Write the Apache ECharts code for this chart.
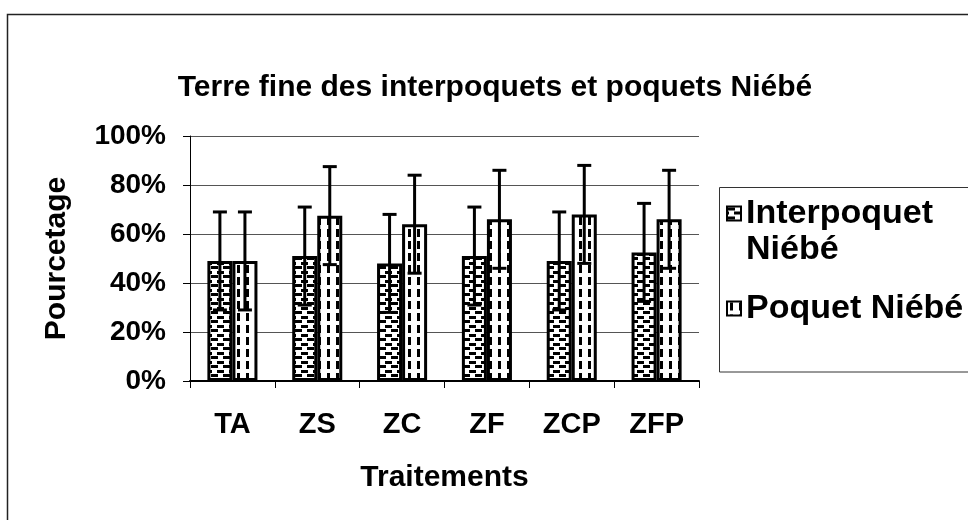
<!DOCTYPE html>
<html>
<head>
<meta charset="utf-8">
<script src="https://cdn.jsdelivr.net/npm/echarts@6/dist/echarts.min.js"></script>
<style>
html,body{margin:0;padding:0;background:#fff;}
#chart{width:968px;height:520px;}
</style>
</head>
<body>
<div id="chart"></div>
<script>
const categories = ['TA', 'ZS', 'ZC', 'ZF', 'ZCP', 'ZFP'];
const seriesNames = ['Interpoquet Niébé', 'Poquet Niébé'];
const interpoquet = [0.49, 0.51, 0.48, 0.51, 0.49, 0.525];
const interpoquetErr = [0.20, 0.20, 0.20, 0.20, 0.20, 0.20];
const poquet = [0.49, 0.675, 0.64, 0.66, 0.68, 0.66];
const poquetErr = [0.20, 0.20, 0.20, 0.20, 0.20, 0.20];
const yTicks = [0, 0.2, 0.4, 0.6, 0.8, 1.0];

const FONT = "'Liberation Sans', Arial, sans-serif";
const GAP = 0.41;

function makePattern(kind) {
  const c = document.createElement('canvas');
  const ctx = c.getContext('2d');
  if (kind === 'h') {
    c.width = 12; c.height = 9;
    ctx.fillStyle = '#fff'; ctx.fillRect(0, 0, 12, 9);
    ctx.fillStyle = '#000';
    ctx.fillRect(1, 1, 7, 3);
    ctx.fillRect(7, 5, 7, 3);
    ctx.fillRect(-5, 5, 7, 3);
  } else {
    c.width = 9; c.height = 12;
    ctx.fillStyle = '#fff'; ctx.fillRect(0, 0, 9, 12);
    ctx.fillStyle = '#000';
    ctx.fillRect(3, 1, 3, 8);
  }
  return c;
}

function errSeries(vals, errs, side) {
  return {
    type: 'custom',
    z: 10,
    silent: true,
    data: vals.map((v, i) => [i, v, errs[i]]),
    encode: { x: 0, y: 1 },
    renderItem: function (params, api) {
      const i = api.value(0), v = api.value(1), e = api.value(2);
      const catW = api.size([1, 0])[0];
      const barW = catW * (1 - GAP) / 2;
      const top = api.coord([i, v + e]);
      const bot = api.coord([i, v - e]);
      const x = top[0] + side * barW / 2;
      const cap = 7;
      const st = { stroke: '#000', lineWidth: 3 };
      return {
        type: 'group',
        children: [
          { type: 'line', shape: { x1: x, y1: top[1], x2: x, y2: bot[1] }, style: st },
          { type: 'line', shape: { x1: x - cap, y1: top[1], x2: x + cap, y2: top[1] }, style: st },
          { type: 'line', shape: { x1: x - cap, y1: bot[1], x2: x + cap, y2: bot[1] }, style: st }
        ]
      };
    }
  };
}

const chart = echarts.init(document.getElementById('chart'), null, { renderer: 'canvas' });
const option = {
  backgroundColor: '#fff',
  animation: false,
  textStyle: { fontFamily: FONT },
  title: {
    text: 'Terre fine des interpoquets et poquets Niébé',
    left: 490, top: 68, textAlign: 'center',
    textStyle: { fontFamily: FONT, fontSize: 30, fontWeight: 'bold', color: '#000' }
  },
  graphic: [
    { type: 'rect', silent: true, shape: { x: 7.5, y: 14.5, width: 1200, height: 1000 },
      style: { fill: 'none', stroke: '#222', lineWidth: 1.5 } },
    { type: 'rect', silent: true, shape: { x: 719.5, y: 187.5, width: 260, height: 184.5 },
      style: { fill: 'none', stroke: '#333', lineWidth: 1 } }
  ],
  legend: {
    orient: 'vertical',
    left: 726, top: 159.5,
    padding: 0,
    icon: 'rect',
    itemWidth: 14, itemHeight: 14, itemGap: 23,
    textStyle: { fontFamily: FONT, fontSize: 34, fontWeight: 'bold', color: '#000', lineHeight: 36 },
    formatter: function (name) {
      return name.indexOf('Interpoquet ') === 0 ? ' \n' + name.replace('Interpoquet ', 'Interpoquet\n') : name;
    },
    data: seriesNames
  },
  grid: { left: 190, right: 269, top: 136, bottom: 139 },
  xAxis: {
    type: 'category',
    data: categories,
    axisLine: { lineStyle: { color: '#000', width: 2 } },
    axisTick: { show: true, length: 7, lineStyle: { color: '#000' } },
    axisLabel: { margin: 29, fontFamily: FONT, fontSize: 29, fontWeight: 'bold', color: '#000' },
    name: 'Traitements', nameLocation: 'middle', nameGap: 82,
    nameTextStyle: { fontFamily: FONT, fontSize: 30, fontWeight: 'bold', color: '#000' }
  },
  yAxis: {
    type: 'value',
    min: yTicks[0], max: yTicks[yTicks.length - 1], interval: 0.2,
    axisLine: { show: true, lineStyle: { color: '#000', width: 1 } },
    axisTick: { show: true, length: 7, lineStyle: { color: '#000' } },
    splitLine: { lineStyle: { color: '#555', width: 1 } },
    axisLabel: { margin: 24, fontFamily: FONT, fontSize: 28, fontWeight: 'bold', color: '#000',
      formatter: v => Math.round(v * 100) + '%' },
    name: 'Pourcetage', nameLocation: 'middle', nameGap: 118, nameRotate: 90,
    nameTextStyle: { fontFamily: FONT, fontSize: 30, fontWeight: 'bold', color: '#000' }
  },
  series: [
    {
      name: seriesNames[0], type: 'bar', data: interpoquet,
      barGap: '0%', barCategoryGap: '41%',
      itemStyle: { color: { image: makePattern('h'), repeat: 'repeat' }, borderColor: '#000', borderWidth: 3 }
    },
    {
      name: seriesNames[1], type: 'bar', data: poquet,
      barGap: '0%', barCategoryGap: '41%',
      itemStyle: { color: { image: makePattern('v'), repeat: 'repeat' }, borderColor: '#000', borderWidth: 3 }
    },
    errSeries(interpoquet, interpoquetErr, -1),
    errSeries(poquet, poquetErr, 1)
  ]
};
chart.setOption(option);
</script>
</body>
</html>
